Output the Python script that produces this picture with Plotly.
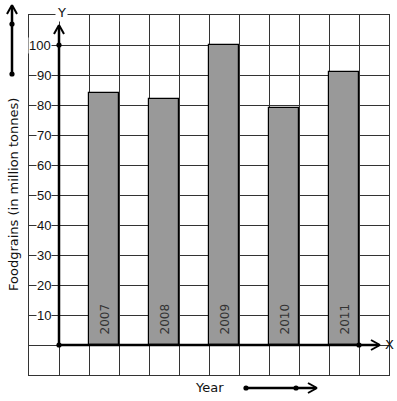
import plotly.graph_objects as go

# ---- data ----
years = ["2007", "2008", "2009", "2010", "2011"]
foodgrains = [84, 82, 100, 79, 91]
y_ticks = [10, 20, 30, 40, 50, 60, 70, 80, 90, 100]
y_tick_labels = ["10", "20", "30", "40", "50", "60", "70", "80", "90", "100"]

W, H = 397, 401
ML, MR, MT, MB = 29, 8, 15, 26
PW, PH = W - ML - MR, H - MT - MB

def px(xp):
    return (xp - ML) / PW

def py(yp):
    return (H - MB - yp) / PH

bar_x = [1.5 + 2 * i for i in range(len(years))]

fig = go.Figure()
fig.add_trace(go.Bar(
    x=bar_x, y=foodgrains, width=1,
    marker=dict(color="#999999", line=dict(color="#000000", width=1.2)),
    hoverinfo="skip", showlegend=False,
))

shapes = []
annotations = []
BLACK = "#000000"

def line(x0, y0, x1, y1, w=2.5):
    shapes.append(dict(type="line", xref="paper", yref="paper",
                       x0=px(x0), y0=py(y0), x1=px(x1), y1=py(y1),
                       line=dict(color=BLACK, width=w), layer="above"))

def dot(xp, yp, r=2.6):
    shapes.append(dict(type="circle", xref="paper", yref="paper",
                       xsizemode="pixel", ysizemode="pixel",
                       xanchor=px(xp), yanchor=py(yp),
                       x0=-r, x1=r, y0=-r, y1=r,
                       fillcolor=BLACK, line=dict(color=BLACK, width=0), layer="above"))

# main axes (pixel positions of the drawing's decorations)
ax0x, ax0y = ML + 30, H - MB - 30   # origin pixel
line(ax0x, ax0y, ax0x, 26)           # y axis
line(ax0x - 5, 34, ax0x, 25, 2)
line(ax0x + 5, 34, ax0x, 25, 2)
dot(ax0x, MT + 30)
dot(ax0x, ax0y)
line(ax0x, ax0y, 379, ax0y)          # x axis
line(371, ax0y - 5, 380, ax0y, 2)
line(371, ax0y + 5, 380, ax0y, 2)
dot(359, ax0y)

# decorative left arrow
line(12, 74, 12, 6)
line(7, 14, 12, 5, 2)
line(17, 14, 12, 5, 2)
dot(12, 24)
dot(12, 74)

# decorative bottom arrow
line(246, 388, 316, 388)
line(308, 383, 317, 388, 2)
line(308, 393, 317, 388, 2)
dot(246, 388)
dot(296, 388)

FONT = "DejaVu Sans"
# y tick labels
for v, t in zip(y_ticks, y_tick_labels):
    annotations.append(dict(xref="x", yref="y", x=-0.22, y=v, text=t,
                            xanchor="right", yanchor="middle", showarrow=False,
                            bgcolor="white", borderpad=0,
                            font=dict(family="Liberation Sans", size=13, color="#111111")))

# year labels inside bars
for xv, t in zip(bar_x, years):
    annotations.append(dict(xref="x", yref="y", x=xv, y=0, yshift=9, text=t,
                            textangle=-90, xanchor="center", yanchor="bottom",
                            showarrow=False, borderpad=0,
                            font=dict(family=FONT, size=12, color="#333333")))

annotations += [
    dict(xref="paper", yref="paper", x=px(61), y=py(12), text="Y", showarrow=False,
         xanchor="center", yanchor="middle", bgcolor="white", borderpad=1,
         font=dict(family=FONT, size=13, color="#111111")),
    dict(xref="paper", yref="paper", x=px(389), y=py(344), text="X", showarrow=False,
         xanchor="center", yanchor="middle",
         font=dict(family=FONT, size=13, color="#111111")),
    dict(xref="paper", yref="paper", x=px(209), y=py(387), text="Year", showarrow=False,
         xanchor="center", yanchor="middle",
         font=dict(family=FONT, size=13, color="#111111")),
    dict(xref="paper", yref="paper", x=px(13), y=py(195),
         text="Foodgrains (in million tonnes)", showarrow=False, textangle=-90,
         xanchor="center", yanchor="middle",
         font=dict(family=FONT, size=13, color="#111111")),
]

fig.update_layout(
    width=W, height=H,
    margin=dict(l=ML, r=MR, t=MT, b=MB, pad=0),
    paper_bgcolor="white", plot_bgcolor="white",
    shapes=shapes, annotations=annotations,
    bargap=0,
    xaxis=dict(range=[-1, 11], tick0=0, dtick=1, showgrid=True, gridcolor="#333333",
               gridwidth=1, showticklabels=False, ticks="", zeroline=False,
               showline=True, mirror=True, linecolor="#333333", linewidth=1,
               fixedrange=True),
    yaxis=dict(range=[-10, 110], tick0=0, dtick=10, showgrid=True, gridcolor="#333333",
               gridwidth=1, showticklabels=False, ticks="", zeroline=False,
               showline=True, mirror=True, linecolor="#333333", linewidth=1,
               fixedrange=True),
)

fig.write_html("out.html", config=dict(displayModeBar=False))

# remove the default page margin so the figure fills the window exactly
with open("out.html", "r", encoding="utf-8") as f:
    html = f.read()
html = html.replace("<head>", "<head><style>html,body{margin:0;padding:0;overflow:hidden;}</style>", 1)
with open("out.html", "w", encoding="utf-8") as f:
    f.write(html)
